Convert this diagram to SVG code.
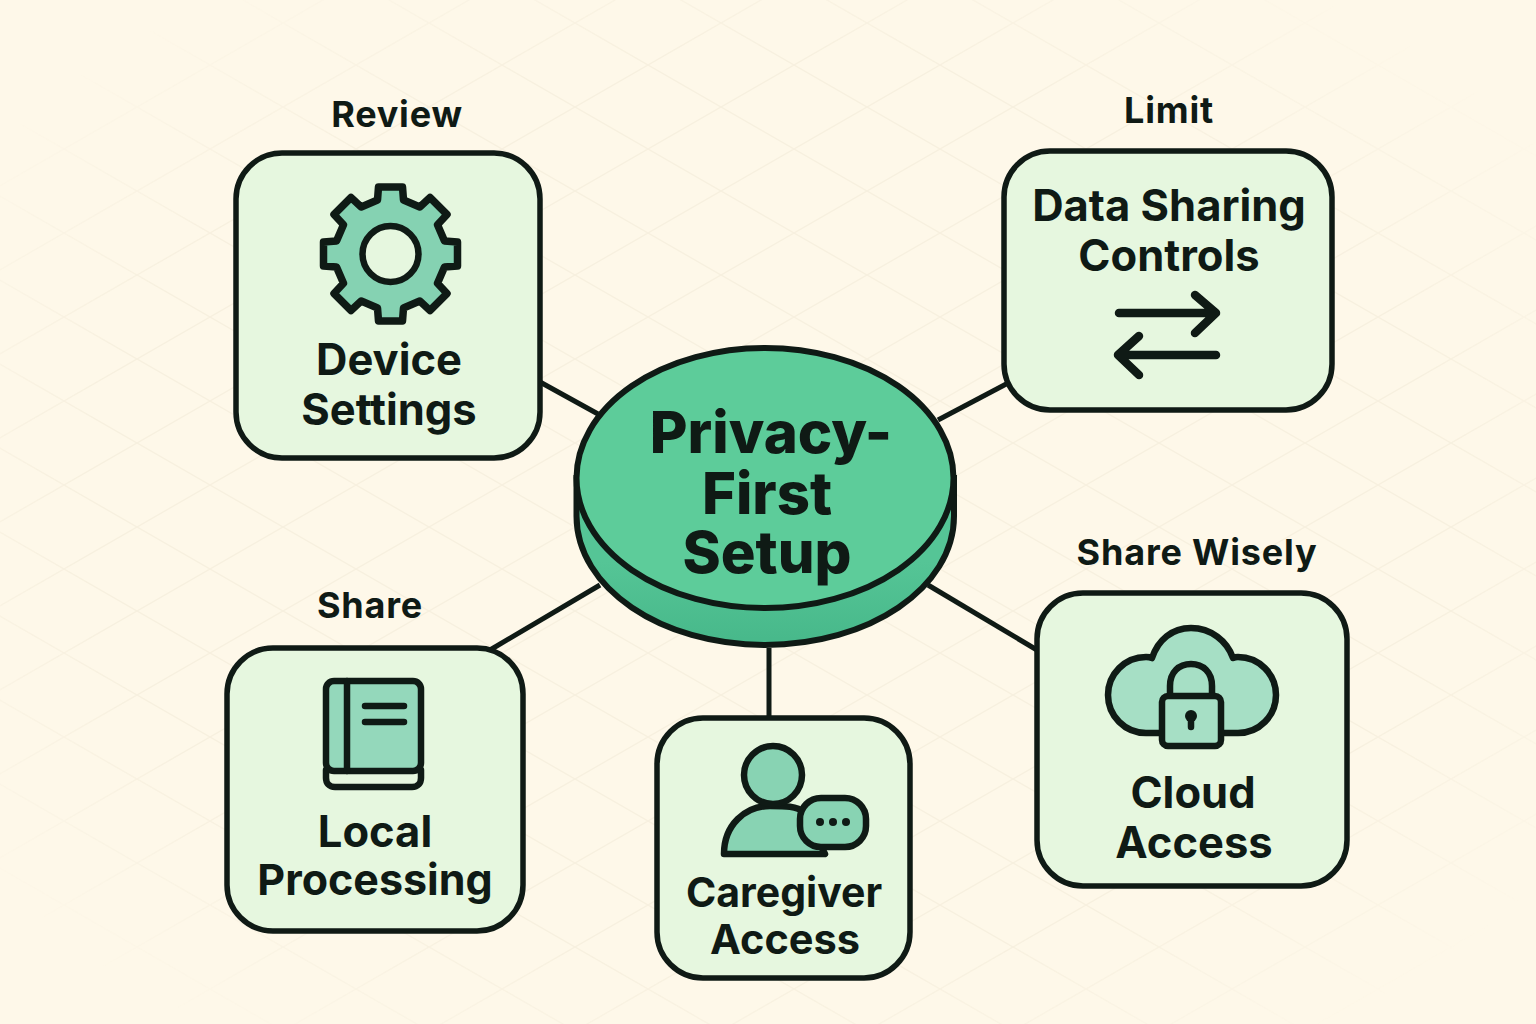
<svg xmlns="http://www.w3.org/2000/svg" width="1536" height="1024" viewBox="0 0 1536 1024">
<defs>
<pattern id="grid" width="146" height="84" patternUnits="userSpaceOnUse" patternTransform="translate(137 23)">
<path d="M0 0L146 84M146 0L0 84" stroke="#f7f0df" stroke-width="1.4" fill="none"/>
</pattern>
<radialGradient id="fade" cx="0.5" cy="0.5" r="0.62"><stop offset="0.72" stop-color="#fff"/><stop offset="1" stop-color="#000"/></radialGradient>
<mask id="fadeMask"><rect width="1536" height="1024" fill="url(#fade)"/></mask>
<linearGradient id="side" x1="0" y1="0" x2="0" y2="1"><stop offset="0.5" stop-color="#55c596"/><stop offset="1" stop-color="#47b88a"/></linearGradient>
<style>
.box{fill:#e6f7df;stroke:#0f1a15;stroke-width:5.5}
.ic{fill:#88d3b3;stroke:#0f1a15;stroke-width:6.5;stroke-linejoin:round;stroke-linecap:round}
.ic2{fill:#a6dfc5;stroke:#0f1a15;stroke-width:6.5;stroke-linejoin:round;stroke-linecap:round}
.ln{fill:none;stroke:#0f1a15;stroke-width:6.5;stroke-linecap:round;stroke-linejoin:round}
.con{stroke:#0f1a15;stroke-width:5;fill:none}
text{font-family:Inter,"Liberation Sans",sans-serif;fill:#0f1a15;text-anchor:middle;font-weight:650}
.t{font-size:43.5px}
.l{font-size:36px;letter-spacing:.8px}
.c{font-size:58px;font-weight:800}
</style>
</defs>
<rect width="1536" height="1024" fill="#fef8e9"/>
<rect id="background" width="1536" height="1024" fill="url(#grid)" mask="url(#fadeMask)"/>
<g id="connectors">
<line class="con" x1="540" y1="382" x2="598" y2="414"/>
<line class="con" x1="938" y1="420" x2="1010" y2="382"/>
<line class="con" x1="928" y1="585" x2="1037" y2="650"/>
<line class="con" x1="769" y1="648" x2="769" y2="718"/>
<line class="con" x1="600" y1="585" x2="490" y2="650"/>
</g>
<g id="center">
<path d="M576.500 478V516C576.500 588 661 645 765 645C869 645 954 588 954 516V478Z" fill="url(#side)" stroke="#0f1a15" stroke-width="6"/>
<ellipse cx="765" cy="478" rx="188.500" ry="130" fill="#5dcc9a" stroke="#0f1a15" stroke-width="6"/>
<text class="c" x="771" y="453">Privacy-</text>
<text class="c" x="767" y="514">First</text>
<text class="c" x="767" y="573">Setup</text>
</g>
<g id="device-settings">
<text class="l" x="397" y="127">Review</text>
<rect class="box" x="236" y="153" width="304" height="305" rx="46"/>
<g transform="translate(390.500 254)">
<polygon class="ic" style="stroke-width:7.500;fill:#85d2b2" points="-13,-54 -12,-67 12,-67 13,-54 29.300,-47 39.500,-56.500 56.500,-39.500 47,-29.300 54,-13 67,-12 67,12 54,13 47,29.300 56.500,39.500 39.500,56.500 29.300,47 13,54 12,67 -12,67 -13,54 -29.300,47 -39.500,56.500 -56.500,39.500 -47,29.300 -54,13 -67,12 -67,-12 -54,-13 -47,-29.300 -56.500,-39.500 -39.500,-56.500 -29.300,-47"/>
<circle cx="0" cy="0" r="28" fill="#e6f7df" stroke="#0f1a15" stroke-width="6.500"/>
</g>
<text class="t" x="389" y="375">Device</text>
<text class="t" x="389" y="425">Settings</text>
</g>
<g id="data-sharing">
<text class="l" x="1169" y="123">Limit</text>
<rect class="box" x="1004" y="151" width="328" height="259" rx="46"/>
<text class="t" x="1169" y="221">Data Sharing</text>
<text class="t" x="1169" y="271">Controls</text>
<path class="ln" style="stroke-width:8.500" d="M1119 313H1215M1195 295L1216 313L1195 333M1216 355H1120M1139 336L1118 355L1139 375"/>
</g>
<g id="cloud-access">
<text class="l" x="1197" y="565">Share Wisely</text>
<rect class="box" x="1037" y="593" width="310" height="293" rx="46"/>
<path class="ic2" d="M1160 733H1146A38 38 0 0 1 1146 657C1148 657 1150 657 1152 658C1158 640 1172 628 1191 628C1211 628 1227 641 1233 658C1235 657 1237 657 1238 657A38 38 0 0 1 1238 733H1220"/>
<path class="ic2" d="M1170 697V686C1170 672 1179 664 1191 664C1203 664 1212 672 1212 686V697Z"/>
<rect class="ic2" x="1162" y="696" width="59" height="50" rx="6"/>
<circle cx="1191" cy="716" r="6" fill="#0f1a15"/>
<path class="ln" d="M1191 718V727"/>
<text class="t" x="1193" y="808">Cloud</text>
<text class="t" x="1194" y="858">Access</text>
</g>
<g id="caregiver-access">
<rect class="box" x="657" y="718" width="253" height="260" rx="46"/>
<path class="ic" d="M724 854C724 825 745 806 770 806C785 806 797 806 804 812L825 854Z"/>
<circle class="ic" cx="773" cy="775" r="29"/>
<rect class="ic" x="800" y="798" width="66" height="49" rx="21"/>
<circle cx="820" cy="822" r="4" fill="#0f1a15"/><circle cx="833" cy="822" r="4" fill="#0f1a15"/><circle cx="846" cy="822" r="4" fill="#0f1a15"/>
<text class="t" x="784" y="907" style="font-size:41px">Caregiver</text>
<text class="t" x="785" y="954" style="font-size:41.500px">Access</text>
</g>
<g id="local-processing">
<text class="l" x="370" y="618">Share</text>
<rect class="box" x="227" y="648" width="296" height="283" rx="46"/>
<path class="ln" style="fill:#e6f7df" d="M326 770V778C326 783 329 787 335 787H412C418 787 421 783 421 778V770"/>
<rect class="ic" style="fill:#94d8bb" x="326" y="681" width="95" height="90" rx="8"/>
<path class="ln" d="M347 681V771M365 706H404M365 722H404"/>
<text class="t" x="375" y="847">Local</text>
<text class="t" x="375" y="895" style="font-size:43px">Processing</text>
</g>
</svg>
